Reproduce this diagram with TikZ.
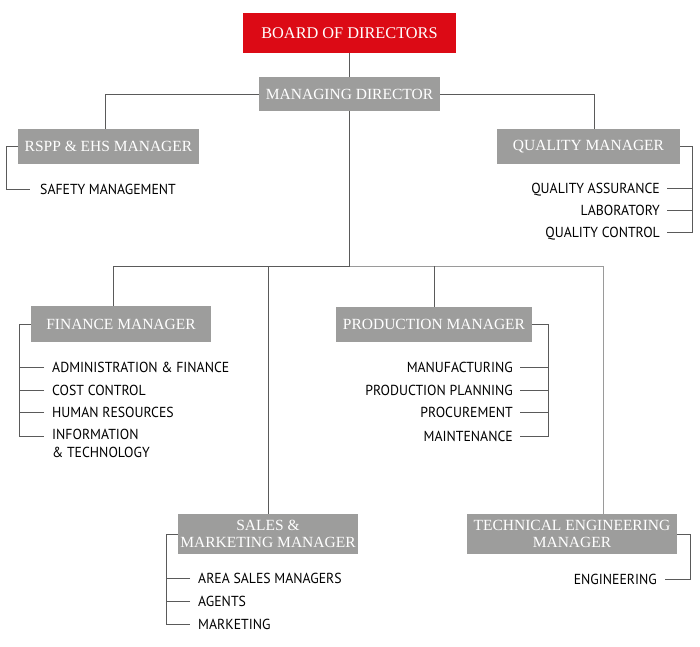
\documentclass[tikz,border=0pt]{standalone}
\usepackage{fontspec}
\setmainfont{Liberation Serif}
\newfontfamily\itemfont[FakeStretch=0.95]{PT Sans}
\usetikzlibrary{calc}
\definecolor{bordred}{HTML}{DC0A15}
\definecolor{boxgray}{HTML}{9D9D9C}
\definecolor{linegray}{HTML}{5A5A5A}
\definecolor{lightline}{HTML}{9A9A9A}
\tikzset{
  box/.style={fill=boxgray, text=white, inner sep=0pt, align=center,
    font=\fontsize{15.5}{17}\selectfont, anchor=center},
  redbox/.style={box, fill=bordred, font=\fontsize{16.3}{18}\selectfont},
  item/.style={inner sep=0pt, text height=10pt, text depth=0pt,
    font=\itemfont\fontsize{14.5}{18}\selectfont, text=black},
  conn/.style={draw=linegray, line width=1pt},
  lconn/.style={draw=lightline, line width=1pt},
}
\begin{document}
\begin{tikzpicture}[x=1pt,y=-1pt]
\useasboundingbox (0,0) rectangle (700,646);
% boxes
\node[redbox, minimum width=213pt, minimum height=40pt] (bod) at (349.5,33) {BOARD OF DIRECTORS};
\node[box, minimum width=181pt, minimum height=34pt] (md) at (349.5,94) {MANAGING DIRECTOR};
\node[box, minimum width=181pt, minimum height=35pt] (rspp) at (108.5,146.5) {RSPP \& EHS MANAGER};
\node[box, minimum width=183pt, minimum height=35pt] (qm) at (588.5,146.5) {QUALITY MANAGER};
\node[box, minimum width=180pt, minimum height=36pt] (fin) at (121,324) {FINANCE MANAGER};
\node[box, minimum width=196pt, minimum height=35pt] (prod) at (434,324.5) {PRODUCTION MANAGER};
\node[box, minimum width=180pt, minimum height=40pt, font=\fontsize{15.5}{17.5}\selectfont] (sales) at (268,534) {SALES \&\\MARKETING MANAGER};
\node[box, minimum width=210pt, minimum height=40pt, font=\fontsize{15.5}{17.5}\selectfont] (tech) at (572,534) {TECHNICAL ENGINEERING\\MANAGER};
% main connectors
\draw[conn] (bod.south) -- (md.north);
\draw[conn] (md.west) -| ($(rspp.north)+(-3.5,0)$);
\draw[conn] (md.east) -| ($(qm.north)+(5.5,0)$);
\coordinate (bus) at (349.5,266);
\draw[conn] (md.south) -- (bus);
\draw[conn] ($(fin.north)+(-8,0)$) |- (bus);
\draw[lconn] ($(tech.north)+(31,0)$) |- (bus);
\draw[conn] (sales.north) -- (sales.north |- bus);
\draw[conn] (prod.north) -- (prod.north |- bus);
% RSPP items
\node[item, anchor=west] (s1) at (40,189) {SAFETY MANAGEMENT};
\draw[conn] (rspp.west) -- (6,146.5) |- ([xshift=-10pt]s1.west);
% Quality items
\node[item, anchor=east] (q1) at (660,188) {QUALITY ASSURANCE};
\node[item, anchor=east] (q2) at (660,210) {LABORATORY};
\node[item, anchor=east] (q3) at (660,232) {QUALITY CONTROL};
\coordinate (qb) at (692,146.5);
\draw[conn] (qm.east) -- (qb) |- ([xshift=7pt]q3.east);
\draw[conn] ([xshift=7pt]q1.east) -- (q1.east -| qb);
\draw[conn] ([xshift=7pt]q2.east) -- (q2.east -| qb);
% Finance items
\node[item, anchor=west] (f1) at (52,367) {ADMINISTRATION \& FINANCE};
\node[item, anchor=west] (f2) at (52,390) {COST CONTROL};
\node[item, anchor=west] (f3) at (52,412) {HUMAN RESOURCES};
\node[item, anchor=north west, text height=, align=left, font=\itemfont\fontsize{14.5}{18}\selectfont] (f4) at (52,428.5) {INFORMATION\\\& TECHNOLOGY};
\coordinate (fb) at (19,324);
\coordinate (f4t) at (44,436);
\draw[conn] (fin.west) -- (fb) |- (f4t);
\draw[conn] ([xshift=-8pt]f1.west) -- (f1.west -| fb);
\draw[conn] ([xshift=-8pt]f2.west) -- (f2.west -| fb);
\draw[conn] ([xshift=-8pt]f3.west) -- (f3.west -| fb);
% Production items
\node[item, anchor=east] (p1) at (513,367) {MANUFACTURING};
\node[item, anchor=east] (p2) at (513,390) {PRODUCTION PLANNING};
\node[item, anchor=east] (p3) at (513,412) {PROCUREMENT};
\node[item, anchor=east] (p4) at (513,436) {MAINTENANCE};
\coordinate (pb) at (548,324.5);
\draw[conn] (prod.east) -- (pb) |- ([xshift=7pt]p4.east);
\draw[conn] ([xshift=7pt]p1.east) -- (p1.east -| pb);
\draw[conn] ([xshift=7pt]p2.east) -- (p2.east -| pb);
\draw[conn] ([xshift=7pt]p3.east) -- (p3.east -| pb);
% Sales items
\node[item, anchor=west] (a1) at (198,578) {AREA SALES MANAGERS};
\node[item, anchor=west] (a2) at (198,601) {AGENTS};
\node[item, anchor=west] (a3) at (198,624) {MARKETING};
\coordinate (sb) at (166,534);
\draw[conn] (sales.west) -- (sb) |- ([xshift=-8pt]a3.west);
\draw[conn] ([xshift=-8pt]a1.west) -- (a1.west -| sb);
\draw[conn] ([xshift=-8pt]a2.west) -- (a2.west -| sb);
% Technical items
\node[item, anchor=east] (e1) at (657,579) {ENGINEERING};
\draw[conn] (tech.east) -- (690,534) |- ([xshift=8pt]e1.east);
\end{tikzpicture}
\end{document}
